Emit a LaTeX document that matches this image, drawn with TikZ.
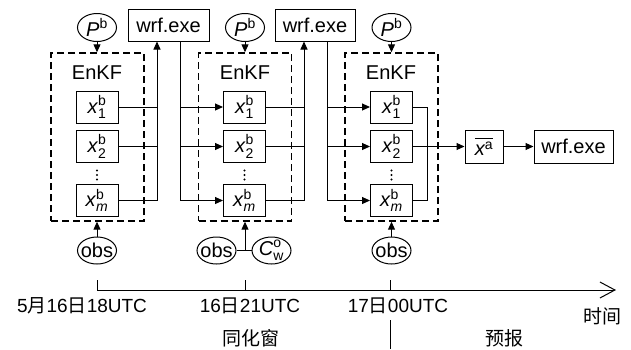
\documentclass[tikz,border=0pt]{standalone}
\usepackage{amsmath}
\usepackage{fontspec}
\setmainfont{Liberation Sans}
\newfontfamily\cjk{Noto Sans CJK SC}
\usetikzlibrary{arrows.meta,shapes.geometric}
\newcommand\xbv[1]{\textit{x}$^{\text{b}}_{#1}$}
\begin{document}
\begin{tikzpicture}[x=1pt,y=-1pt,line width=1pt,
  font=\fontsize{20}{24}\selectfont,
  box/.style={draw,line width=1pt,minimum height=32pt,inner sep=0pt},
  dbox/.style={draw,line width=1.4pt,dash pattern=on 7pt off 4pt,minimum width=93pt,minimum height=168pt,inner sep=0pt},
  ell/.style={draw,ellipse,line width=1pt,minimum width=39pt,minimum height=28pt,inner xsep=-3pt,inner ysep=-2pt},
  arr/.style={-{Triangle[length=8pt,width=7pt]}},
  dotmark/.style={fill,circle,inner sep=0pt,minimum size=2.2pt},
  tl/.style={font=\fontsize{19}{22}\selectfont},
  cl/.style={font=\fontsize{19}{22}\selectfont\cjk}]
\useasboundingbox (0,0) rectangle (631,349);
% dashed EnKF frames
\node[dbox] (D1) at (97.5,137) {};
\node[dbox] (D2) at (245,137) {};
\node[dbox] (D3) at (391.5,137) {};
\node (E1) at (97,73) {EnKF};
\node (E2) at (245,73) {EnKF};
\node (E3) at (391,73) {EnKF};
% P^b
\node[ell] (P1) at (97,27.5) {\textit{P}$^{\text{b}}$};
\node[ell] (P2) at (245,27.5) {\textit{P}$^{\text{b}}$};
\node[ell] (P3) at (391.5,27.5) {\textit{P}$^{\text{b}}$};
\draw[arr] (P1) -- (P1 |- D1.north);
\draw[arr] (P2) -- (P2 |- D2.north);
\draw[arr] (P3) -- (P3 |- D3.north);
% wrf boxes
\node[box,minimum width=81pt] (W1) at (168.5,25) {wrf.exe};
\node[box,minimum width=80pt] (W2) at (315,25) {wrf.exe};
% ensemble members
\foreach \i/\cx in {1/97,2/244.5,3/391.5}{
  \node[box,minimum width=42pt] (A\i) at (\cx,107) {\xbv{\text{1}}};
  \node[box,minimum width=42pt] (B\i) at (\cx,146.5) {\xbv{\text{2}}};
  \node[dotmark] (Va\i) at (\cx,170.5) {};
  \node[dotmark] (Vb\i) at (\cx,175) {};
  \node[dotmark] (Vc\i) at (\cx,179.5) {};
  \node[box,minimum width=42pt] (M\i) at (\cx,200.5) {\xbv{\text{\itshape m}}};
}
% block 1 -> wrf 1
\coordinate (S1) at (157,200.5);
\draw (A1.east) -- (A1.east -| S1);
\draw (B1.east) -- (B1.east -| S1);
\draw[arr] (M1.east) -- (S1) -- (S1 |- W1.south);
% wrf 1 -> block 2
\coordinate (R1) at (180,200.5);
\draw (R1 |- W1.south) -- (R1);
\draw[arr] (R1 |- A2) -- (A2.west);
\draw[arr] (R1 |- B2) -- (B2.west);
\draw[arr] (R1) -- (M2.west);
% block 2 -> wrf 2
\coordinate (S2) at (304,200.5);
\draw (A2.east) -- (A2.east -| S2);
\draw (B2.east) -- (B2.east -| S2);
\draw[arr] (M2.east) -- (S2) -- (S2 |- W2.south);
% wrf 2 -> block 3
\coordinate (R2) at (327,200.5);
\draw (R2 |- W2.south) -- (R2);
\draw[arr] (R2 |- A3) -- (A3.west);
\draw[arr] (R2 |- B3) -- (B3.west);
\draw[arr] (R2) -- (M3.west);
% block 3 -> mean -> wrf
\node[box,minimum width=38pt,minimum height=33pt] (XA) at (484,146.5) {$\overline{\text{\itshape x}^{\text{a}}}$};
\node[box,minimum width=79pt,minimum height=33pt] (W3) at (573.5,146.5) {wrf.exe};
\coordinate (S3) at (427,200.5);
\draw (A3.east) -- (A3.east -| S3) -- (S3) -- (M3.east);
\draw[arr] (B3.east) -- (XA.west);
\draw[arr] (XA) -- (W3);
% observations
\node[ell,minimum height=27pt] (O1) at (97,250.5) {obs};
\node[ell,minimum height=27pt] (O2) at (216.5,250.5) {obs};
\node[ell,minimum height=27pt] (C2) at (271.5,250.5) {\textit{C}$^{\text{o}}_{\text{w}}$};
\node[ell,minimum height=27pt] (O3) at (391.5,250.5) {obs};
\draw[arr] (O1) -- (O1 |- D1.south);
\draw[arr] (O3) -- (O3 |- D3.south);
\draw (O2) -- (C2);
\coordinate (J2) at (245,250.5);
\draw[arr] (J2) -- (J2 |- D2.south);
% time line
\coordinate (T0) at (97,290);
\coordinate (T1) at (616,290);
\coordinate (K1) at (97,280);
\coordinate (K2) at (245,280);
\coordinate (K2b) at (245,290);
\coordinate (K3) at (390,280);
\coordinate (K3b) at (390,290);
\coordinate (K3c) at (390,320);
\coordinate (K3d) at (390,349);
\draw[-{Straight Barb[length=15pt,width=16pt]}] (T0) -- (T1);
\draw (K1) -- (T0);
\draw (K2) -- (K2b);
\draw (K3) -- (K3b);
\draw (K3c) -- (K3d);
\node[tl] (L1) at (82,306) {5{\cjk 月}16{\cjk 日}18UTC};
\node[tl] (L2) at (250,306) {16{\cjk 日}21UTC};
\node[tl] (L3) at (398,306) {17{\cjk 日}00UTC};
\node[cl] (L4) at (602,316) {时间};
\node[cl] (L5) at (251,338) {同化窗};
\node[cl] (L6) at (504,338) {预报};
\end{tikzpicture}
\end{document}
